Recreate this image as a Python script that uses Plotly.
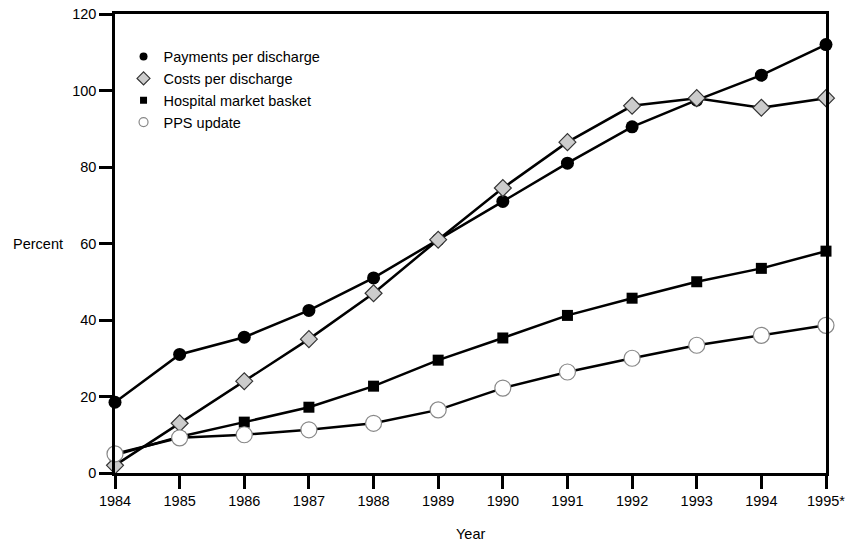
import plotly.graph_objects as go

years = [1984, 1985, 1986, 1987, 1988, 1989, 1990, 1991, 1992, 1993, 1994, 1995]
year_labels = ["1984", "1985", "1986", "1987", "1988", "1989", "1990", "1991", "1992", "1993", "1994", "1995*"]
payments = [18.5, 31, 35.5, 42.5, 51, 61, 71, 81, 90.5, 97.5, 104, 112]
costs = [2, 13, 24, 35, 47, 61, 74.5, 86.5, 96, 98, 95.5, 98]
market_basket = [4.7, 9.5, 13.3, 17.2, 22.7, 29.5, 35.3, 41.2, 45.7, 50, 53.5, 58]
pps_update = [5, 9.2, 10, 11.3, 13, 16.5, 22.2, 26.4, 30, 33.4, 36, 38.6]
y_ticks = [0, 20, 40, 60, 80, 100, 120]

series = [
    ("Payments per discharge", payments, dict(symbol="circle", size=13, color="black")),
    ("Costs per discharge", costs, dict(symbol="diamond", size=13, color="#cccccc",
                                        line=dict(color="#333333", width=1.2))),
    ("Hospital market basket", market_basket, dict(symbol="square", size=11, color="black")),
    ("PPS update", pps_update, dict(symbol="circle", size=16, color="white",
                                    line=dict(color="#888888", width=1.2))),
]

font = "Liberation Sans, Arial, sans-serif"
FS = 14.5
line = dict(color="black", width=2.5)

fig = go.Figure()
for name, vals, mk in series:
    fig.add_trace(go.Scatter(x=years, y=vals, name=name, mode="lines+markers", line=line,
                             marker=mk, cliponaxis=False, showlegend=False, hoverinfo="skip"))
legend_marker_sizes = {"Payments per discharge": 8, "Costs per discharge": 10,
                       "Hospital market basket": 7, "PPS update": 9}
for name, vals, mk in series:
    lm = dict(mk)
    lm["size"] = legend_marker_sizes[name]
    fig.add_trace(go.Scatter(x=[None], y=[None], name=name, mode="markers", marker=lm,
                             showlegend=True))

axis_common = dict(showgrid=False, zeroline=False, showline=True, linecolor="black", linewidth=2.5,
                   mirror=True, ticks="outside", ticklen=13, tickwidth=2.5, tickcolor="black",
                   tickfont=dict(size=FS, color="black"), automargin=False)

fig.update_layout(
    width=846, height=544,
    margin=dict(l=115, r=20, t=14, b=71),
    paper_bgcolor="white", plot_bgcolor="white",
    font=dict(family=font, size=FS, color="black"),
    showlegend=True,
    legend=dict(x=0.012, y=0.942, xanchor="left", yanchor="top", bgcolor="rgba(0,0,0,0)",
                font=dict(size=FS), borderwidth=0),
    xaxis=dict(range=[1984, 1995], tickvals=years, ticktext=year_labels, **axis_common),
    yaxis=dict(range=[0, 120], tickvals=y_ticks, **axis_common),
)
fig.add_annotation(text="Percent", xref="paper", yref="y", x=-0.07, y=60, xanchor="right",
                   yanchor="middle", showarrow=False, font=dict(size=FS))
fig.add_annotation(text="Year", xref="x", yref="paper", x=1989.5, y=-0.133, xanchor="center",
                   yanchor="middle", showarrow=False, font=dict(size=FS))

fig.write_html("out.html", config={"displayModeBar": False},
               post_script="document.body.style.margin='0px';document.body.style.overflow='hidden';")
